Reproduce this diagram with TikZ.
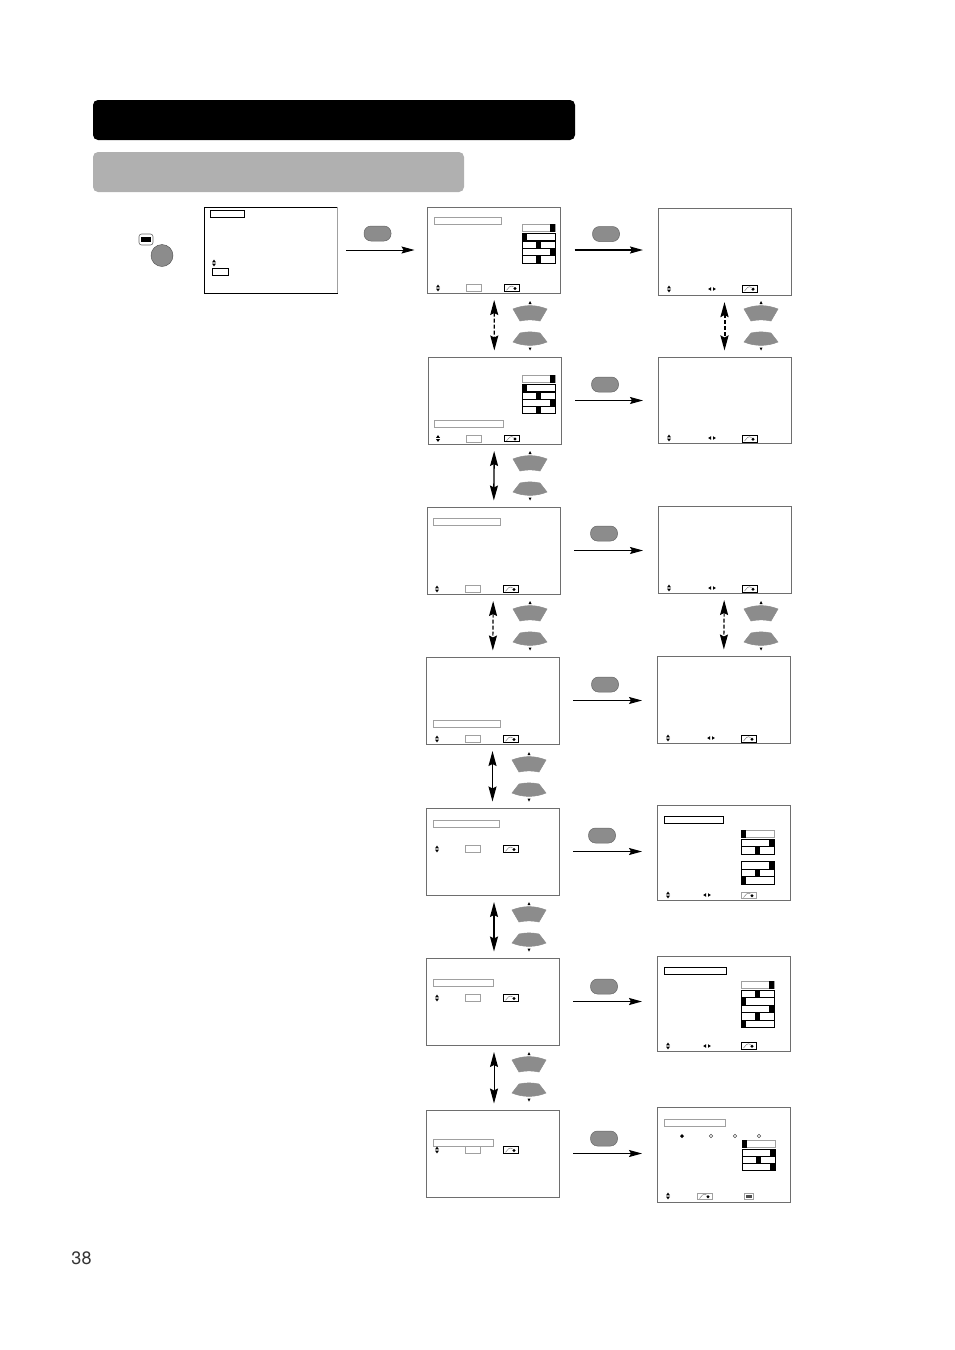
\documentclass[tikz,border=0pt]{standalone}
\usepackage{fontspec}
\setmainfont{TeX Gyre Heros}
\usepackage{xcolor}
\usetikzlibrary{arrows.meta}
\definecolor{btngray}{HTML}{8C8C8C}
\definecolor{hdrgray}{HTML}{B0B0B0}
\definecolor{scrgray}{HTML}{6E6E6E}
\definecolor{boxgray}{HTML}{A0A0A0}

\begin{document}
\begin{tikzpicture}[
  x=1pt,y=-1pt,
  scr/.style={draw=scrgray,line width=1pt,minimum width=133pt,inner sep=0pt,
              outer sep=0pt,anchor=north west},
  hdr/.style={rounded corners=5pt,inner sep=0pt,minimum height=40pt},
  btn/.style={draw=black!60,fill=btngray,line width=0.5pt,rounded corners=7pt,
              minimum width=27pt,minimum height=15pt,inner sep=0pt},
  tb/.style={draw=boxgray,line width=0.8pt},
  tk/.style={draw=black,line width=0.9pt},
  ar/.style={-{Stealth[length=13pt,width=7pt,inset=2pt]},shorten <=14pt,shorten >=15pt},
  dv/.style={{Stealth[length=15pt,width=8pt,inset=2pt]}-{Stealth[length=15pt,width=8pt,inset=2pt]},
             shorten <=7pt,shorten >=6.5pt},
  dd/.style={dash pattern=on 4pt off 2pt},
  ud/.pic={
    \fill (-2,-0.6)--(2,-0.6)--(0,-3.4)--cycle;
    \fill (-2,0.6)--(2,0.6)--(0,3.4)--cycle;
  },
  lr/.pic={
    \fill (-1,-1.8)--(-1,1.8)--(-3.8,0)--cycle;
    \fill (1,-1.8)--(1,1.8)--(3.8,0)--cycle;
  },
  rc/.pic={
    \draw[line width=0.9pt] (0,0) rectangle (15,6.5);
    \draw[black!50,line width=0.5pt] (2.5,5.5)--(5.5,2) .. controls (7,1) and (8,1) .. (9.5,2);
    \fill (11,3.7) circle (1.7pt);
  },
  bar/.pic={
    \draw[line width=1pt] (0,0) rectangle (33,7.5);
    \fill[black] ({#1*28},0) rectangle +(5,7.5);
  },
  lrow/.pic={
    \pic {ud};
    \draw[tb] (28.5,-3.5) rectangle +(15,7);
    \pic[draw=black] at (66,-3.2) {rc};
  },
  rrow/.pic={
    \pic {ud};
    \pic at (#1,0) {lr};
  },
  updn/.pic={
    \draw[fill=btngray,draw=black!45,line width=0.5pt]
      (-17,-17) .. controls (-6,-21.5) and (6,-21.5) .. (17,-17)
      -- (10,-5) .. controls (3,-6.5) and (-3,-6.5) .. (-10,-5) -- cycle;
    \draw[fill=btngray,draw=black!45,line width=0.5pt]
      (-10,7) .. controls (-3,5.5) and (3,5.5) .. (10,7)
      -- (17,16) .. controls (6,20.5) and (-6,20.5) .. (-17,16) -- cycle;
    \fill (-1.5,-22)--(1.5,-22)--(0,-25)--cycle;
    \fill (-1.5,21.5)--(1.5,21.5)--(0,24.5)--cycle;
  }
]
\useasboundingbox (0,0) rectangle (954,1350);

% headers
\node[hdr,fill=black,minimum width=482pt](head) at (334,120){};
\node[hdr,fill=hdrgray,minimum width=371pt](sub) at (278.5,172){};

% screens
\foreach \n/\x/\y/\h in {l1/427.5/207/86,l2/428/357/87,l3/427/507/87,l4/426/657/87,
                         l5/426/808/87,l6/426/958/87,l7/426/1110/87,
                         r1/658/208/87,r2/658/357/86,r3/658/506/87,r4/657/656/87,
                         r5/657/805/95,r6/657/956/95,r7/657/1107/95}{
  \node[scr,minimum height=\h pt](\n) at (\x,\y){};
}
\node[scr,draw=black,minimum height=86pt](s0) at (204,207){};
\draw[boxgray,line width=1pt](s0.north east)--(s0.south east);

% menu key
\node[draw=black!70,fill=btngray,circle,minimum size=22pt,inner sep=0pt](pw) at (162,255.5){};
\draw[black!60,fill=white,line width=0.6pt,rounded corners=2.5pt](139,234) rectangle (153,245);
\fill[black](141,237) rectangle (151,242);

% keys over the arrows
\foreach \x/\y [count=\i] in {377.5/233.5,606/234,605/384.5,604/533.5,605/684.5,
                              602/835.5,604/986.5,604/1138.5}{
  \node[btn](btn\i) at (\x,\y){};
}

% connectors
\draw[ar,line width=0.9pt,shorten <=9pt,shorten >=13pt](s0.east)--(s0.east-|l1.west);
\foreach \a/\b/\w in {l1/r1/1.7,l2/r2/0.9,l3/r3/0.9,l4/r4/0.9,l5/r5/1.1,l6/r6/1.7,l7/r7/1.1}{
  \draw[ar,line width=\w pt](\a.east)--(\a.east-|\b.west);
}
\draw[dv,line width=1.1pt,dd](l1)--(l2);
\draw[dv,line width=1.4pt](l2)--(l3);
\draw[dv,line width=1.1pt,dd](l3)--(l4);
\draw[dv,line width=1.4pt](l4)--(l5);
\draw[dv,line width=1.4pt]([xshift=1.5pt]l5.south)--([xshift=1.5pt]l6.north);
\draw[dv,line width=1pt]([xshift=1.5pt]l6.south)--([xshift=1.5pt]l7.north);
\draw[dv,line width=2pt,dd](r1)--(r2);
\draw[dv,line width=1.1pt,dd](r3)--(r4);

% up/down keys
\foreach \x/\y in {530/326,530/476,530/626,529/777,529/927,529/1077,761/326,761/626}{
  \pic at (\x,\y) {updn};
}

% title bars
\foreach \x/\y/\w in {434/217/67,434/420/69,433/518/67,433/720/67,
                      433/820/66,433/979/60,433/1139/60,664/1119/61}{
  \draw[tb](\x,\y) rectangle +(\w,7.5);
}
\foreach \x/\y/\w in {210/210.5/34,664/816/59,664/967/62}{
  \draw[tk](\x,\y) rectangle +(\w,7);
}

% first screen
\pic at (214,263) {ud};
\draw[tk](212.5,268) rectangle +(15.5,7);

% bottom rows
\foreach \x/\y in {438/288,438/438.5,437/589,437/739,437/849,437/998,437/1150}{
  \pic at (\x,\y) {lrow};
}
\foreach \x/\y/\d in {669/289/43,669/438/43,669/588/43,668/738/43,668/895/39,668/1046/39}{
  \pic at (\x,\y) {rrow=\d};
}
\foreach \x/\y in {742/285.5,742/435.5,742/585.5,741/735.5,741/1042.5}{
  \pic[draw=black] at (\x,\y) {rc};
}
\pic[draw=boxgray] at (741,892) {rc};
\pic at (668,1196) {ud};
\pic[draw=boxgray] at (697,1193) {rc};
\draw[boxgray,line width=0.8pt](744,1193) rectangle +(9,6.5);
\fill[black!70](745.5,1195) rectangle +(6,3);

% sliders
\foreach \x/\y/\f in {741/830/0,741/981/1,742/1140/0,522/224/1,522/375/1}{
  \pic[draw=boxgray] at (\x,\y) {bar=\f};
}
\foreach \x/\y/\f in {522/233/0,522/241/.5,522/248/1,522/255.5/.5,
                      522/384/0,522/392/.5,522/399/1,522/406/.5,
                      741/839/1,741/846.5/.5,741/861.5/1,741/869/.5,741/876.5/0,
                      741/990/.5,741/997.5/0,741/1005/1,741/1012.5/.5,741/1020/0,
                      742/1149/1,742/1156/.5,742/1163/1}{
  \pic[draw=black] at (\x,\y) {bar=\f};
}

% inputs on the last screen
\fill[black](682,1134) -- (684,1136) -- (682,1138) -- (680,1136) -- cycle;
\foreach \x in {711,735,759}{
  \draw[black!70,line width=0.5pt](\x,1134.3) -- (\x+1.7,1136) -- (\x,1137.7) -- (\x-1.7,1136) -- cycle;
}

\node[font=\fontsize{18}{20}\selectfont,inner sep=0pt,text=black!80](page) at (81.5,1258){38};
\end{tikzpicture}
\end{document}
